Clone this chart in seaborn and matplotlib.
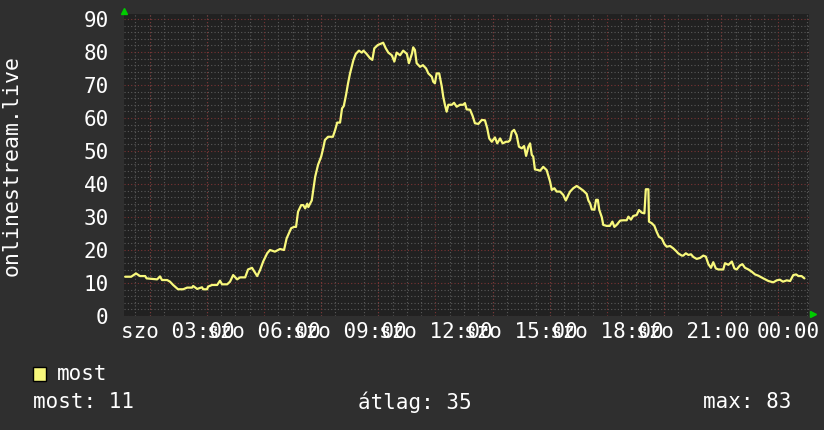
import matplotlib
matplotlib.use("Agg")
import matplotlib.pyplot as plt
import matplotlib.transforms as mtransforms
from matplotlib.patches import Rectangle
from matplotlib.ticker import MultipleLocator
import numpy as np
import pandas as pd
import seaborn as sns

# hours since saturday 00:00, viewers online
hours = [1.14, 1.35, 1.52, 1.66, 1.84, 1.89, 2.26, 2.36, 2.43, 2.61, 2.71, 2.82, 2.99, 3.17,
         3.31, 3.48, 3.52, 3.66, 3.83, 3.87, 4.01, 4.04, 4.18, 4.36, 4.46, 4.53, 4.71, 4.81,
         4.92, 5.06, 5.16, 5.34, 5.44, 5.58, 5.76, 5.86, 5.97, 6.11, 6.21, 6.38, 6.56, 6.70,
         6.79, 6.95, 7.05, 7.12, 7.19, 7.30, 7.37, 7.44, 7.51, 7.55, 7.67, 7.79, 7.89, 8.00,
         8.07, 8.13, 8.24, 8.41, 8.49, 8.56, 8.66, 8.73, 8.79, 8.87, 8.94, 9.01, 9.07, 9.13,
         9.21, 9.32, 9.42, 9.48, 9.59, 9.71, 9.79, 9.86, 9.98, 10.12, 10.17, 10.26, 10.35,
         10.47, 10.56, 10.64, 10.76, 10.87, 11.00, 11.07, 11.18, 11.22, 11.28, 11.34, 11.46,
         11.56, 11.67, 11.75, 11.87, 11.92, 11.98, 12.04, 12.13, 12.22, 12.27, 12.33, 12.39,
         12.45, 12.57, 12.65, 12.74, 12.86, 12.97, 13.03, 13.09, 13.21, 13.30, 13.38, 13.50,
         13.62, 13.73, 13.81, 13.88, 13.97, 14.08, 14.16, 14.26, 14.35, 14.47, 14.55, 14.61,
         14.67, 14.75, 14.84, 14.92, 15.02, 15.10, 15.17, 15.25, 15.31, 15.37, 15.42, 15.48,
         15.60, 15.66, 15.77, 15.89, 16.01, 16.07, 16.16, 16.24, 16.36, 16.47, 16.56, 16.65,
         16.71, 16.82, 16.94, 17.06, 17.17, 17.29, 17.35, 17.41, 17.47, 17.56, 17.62, 17.68,
         17.73, 17.82, 17.87, 17.99, 18.10, 18.19, 18.26, 18.34, 18.46, 18.57, 18.69, 18.75,
         18.84, 18.92, 19.04, 19.12, 19.22, 19.31, 19.36, 19.45, 19.47, 19.57, 19.66, 19.74,
         19.82, 19.92, 20.01, 20.09, 20.21, 20.32, 20.44, 20.49, 20.62, 20.67, 20.76, 20.85,
         20.94, 21.02, 21.14, 21.26, 21.37, 21.46, 21.55, 21.64, 21.72, 21.81, 21.90, 22.07,
         22.13, 22.25, 22.37, 22.46, 22.54, 22.65, 22.74, 22.83, 22.95, 23.07, 23.18, 23.30,
         23.47, 23.65, 23.82, 23.94, 24.05, 24.16, 24.29, 24.41, 24.52, 24.62, 24.70, 24.81,
         24.91]
viewers = [11.9, 11.9, 12.9, 12.1, 12.1, 11.4, 11.1, 12.0, 10.9, 10.9, 10.4, 9.4, 8.1, 8.1,
           8.6, 8.6, 9.1, 8.2, 8.7, 8.1, 8.1, 8.9, 9.4, 9.4, 10.7, 9.6, 9.6, 10.4,
           12.4, 11.1, 11.7, 11.7, 14.1, 14.6, 12.1, 13.9, 16.5, 19.0, 20.0, 19.5, 20.3, 20.0,
           23.5, 26.6, 27.0, 27.0, 31.6, 33.6, 33.6, 32.6, 34.0, 33.0, 35.0, 42.2, 45.8, 48.3,
           50.8, 53.3, 54.3, 54.3, 56.4, 58.6, 58.6, 62.9, 63.6, 67.0, 70.5, 73.5, 75.5, 77.6,
           79.4, 80.4, 79.8, 80.4, 79.4, 78.1, 77.6, 81.1, 82.1, 82.6, 82.8, 81.1, 79.8,
           79.0, 77.1, 79.8, 79.0, 80.4, 79.4, 76.6, 79.6, 81.4, 80.6, 76.6, 75.5,
           76.0, 75.0, 73.5, 72.5, 71.0, 70.5, 73.5, 73.5, 69.5, 66.5, 64.0, 61.9,
           64.0, 64.0, 64.6, 63.4, 64.0, 64.0, 64.5, 62.6, 62.5, 60.6, 58.4, 58.2,
           59.4, 59.3, 56.9, 53.8, 52.8, 54.1, 52.3, 53.8, 52.3, 52.8, 52.8, 53.3,
           55.8, 56.4, 54.8, 51.3, 50.8, 51.5, 48.5, 51.3, 52.3, 48.8, 48.3, 44.4,
           44.2, 44.0, 45.2, 44.2, 40.7, 38.2, 38.7, 37.7, 37.7, 36.7, 35.0, 36.7,
           37.7, 38.7, 39.4, 38.7, 38.0, 37.0, 35.0, 34.1, 32.3, 32.2, 35.2, 35.2,
           32.2, 29.9, 27.6, 27.3, 27.3, 28.6, 27.0, 27.6, 28.9, 29.0, 29.0, 30.1,
           29.2, 30.3, 30.6, 32.1, 31.3, 31.1, 38.4, 38.4, 28.6, 28.1, 27.3, 25.5,
           24.0, 23.5, 21.8, 21.0, 21.2, 20.5, 19.5, 19.0, 18.3, 18.3, 19.0, 18.5,
           18.7, 17.9, 17.3, 17.6, 18.3, 18.0, 15.7, 14.6, 16.3, 14.4, 14.1, 14.1,
           16.0, 15.5, 16.5, 14.4, 14.1, 15.3, 15.7, 14.6, 14.1, 13.4, 12.6, 12.2,
           11.4, 10.6, 10.2, 10.8, 11.0, 10.4, 10.8, 10.6, 12.4, 12.6, 12.1, 12.1,
           11.4]

tick_hours = [3, 6, 9, 12, 15, 18, 21, 24]
tick_labels = ['szo 03:00', 'szo 06:00', 'szo 09:00', 'szo 12:00',
               'szo 15:00', 'szo 18:00', 'szo 21:00', '00:00']
y_ticks = [0, 10, 20, 30, 40, 50, 60, 70, 80, 90]

series_name = 'most'
y_title = 'onlinestream.live'
stat_names = ['most', 'átlag', 'max']
stat_values = [11, 35, 83]

BG = '#2f2f2f'
PLOT_BG = '#212121'
LINE = '#f8f87c'
GRID_MINOR = '#5a5a5a'
GRID_MAJOR = '#7a3434'
TXT = '#ffffff'

sns.set_theme(style='dark')
plt.rcParams['font.family'] = ['DejaVu Sans Mono', 'DejaVu Sans']

df = pd.DataFrame({'hour': hours, 'value': viewers})

fig = plt.figure(figsize=(8.24, 4.30), dpi=100, facecolor=BG)
ax = fig.add_axes([124 / 824, 114 / 430, 685 / 824, 302 / 430])
ax.set_facecolor(PLOT_BG)

sns.lineplot(data=df, x='hour', y='value', ax=ax, color=LINE, linewidth=1.6,
             legend=False, zorder=5)

ax.set_xlim(1.10, 25.07)
ax.set_ylim(0, 91.5)

# grid like rrdtool: minor grey dots, major red dots
ax.xaxis.set_minor_locator(MultipleLocator(0.5))
ax.yaxis.set_minor_locator(MultipleLocator(2))
ax.grid(which='minor', color=GRID_MINOR, linestyle=(0, (1, 2)), linewidth=0.8)
ax.grid(which='major', axis='y', color=GRID_MAJOR, linestyle=(0, (1, 2)), linewidth=0.8)
ax.grid(which='major', axis='x', visible=False)
for h in np.arange(2, 26, 2):
    ax.axvline(h, color=GRID_MAJOR, linestyle=(0, (1, 2)), linewidth=0.8, zorder=1)
ax.set_axisbelow(True)

ax.set_xticks(tick_hours)
ax.set_xticklabels(tick_labels)
ax.set_yticks(y_ticks)
ax.tick_params(axis='both', which='both', length=0, colors=TXT, labelsize=15)
ax.tick_params(axis='y', pad=11)
ax.tick_params(axis='x', pad=4)
last = ax.get_xticklabels()[-1]
last.set_transform(last.get_transform() + mtransforms.ScaledTranslation(0.1, 0, fig.dpi_scale_trans))

for s in ax.spines.values():
    s.set_visible(False)

ax.set_xlabel(None)
ax.set_ylabel(y_title, color=TXT, fontsize=15.5, va='center')
ax.yaxis.set_label_coords((12 - 124) / 685, 0.5)

# little green arrows at axis ends
ax.plot([0], [1 + 3 / 302], marker='^', color='#00cc00', ms=5, transform=ax.transAxes,
        clip_on=False, zorder=6)
ax.plot([1 + 4 / 685], [0.005], marker='>', color='#00cc00', ms=5, transform=ax.transAxes,
        clip_on=False, zorder=6)

# legend and stats
fig.add_artist(Rectangle((33 / 824, 1 - 381 / 430), 13 / 824, 14 / 430, facecolor=LINE,
                         edgecolor='black', linewidth=1, transform=fig.transFigure))
fig.text(57 / 824, 1 - 374 / 430, series_name, color=TXT, fontsize=15, va='center', ha='left')
fig.text(33 / 824, 1 - 402 / 430, f'{stat_names[0]}: {stat_values[0]}', color=TXT,
         fontsize=15, va='center', ha='left')
fig.text(358 / 824, 1 - 402 / 430, f'{stat_names[1]}: {stat_values[1]}', color=TXT,
         fontsize=15, va='center', ha='left')
fig.text(791 / 824, 1 - 402 / 430, f'{stat_names[2]}: {stat_values[2]}', color=TXT,
         fontsize=15, va='center', ha='right')

fig.savefig('out.png', dpi=100, facecolor=BG)
